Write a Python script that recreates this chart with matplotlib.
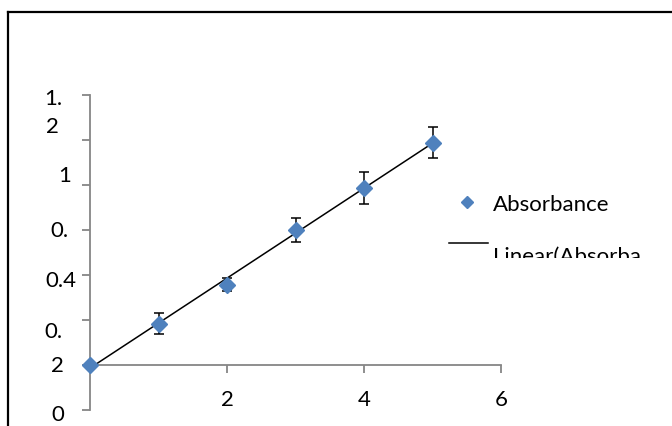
import numpy as np
import matplotlib.pyplot as plt
from matplotlib.lines import Line2D
from matplotlib.patches import Rectangle

plt.rcParams['font.family'] = ['Lato', 'DejaVu Sans']

# data
conc = [0, 1, 2, 3, 4, 5]
absorbance = [0.0, 0.183, 0.357, 0.601, 0.787, 0.988]
err = [0.0, 0.047, 0.030, 0.054, 0.073, 0.069]

x_ticks = [2, 4, 6]
x_labels = ['2', '4', '6']
y_ticks = [-0.2, 0, 0.2, 0.4, 0.6, 0.8, 1.0, 1.2]

# the wrapped, shifted y labels as Excel drew them
y_label_text = ['1.', '2', '1', '0.', '0.4', '0.', '2', '0']
y_label_y = [1.187, 1.062, 0.844, 0.6, 0.378, 0.151, 0.0, -0.217]
y_label_x = [-0.53, -0.55, -0.37, -0.44, -0.42, -0.53, -0.48, -0.47]

legend_labels = ['Absorbance', 'Linear(Absorba']

W, H = 672, 427
blue = '#4F81BD'
grey = '#868686'
fs = 16

def fx(p):
    return p / W

def fy(p):
    return 1 - p / H

fig = plt.figure(figsize=(W / 100, H / 100), dpi=100)
ax = fig.add_axes([fx(90), fy(411), (501 - 90) / W, (411 - 96) / H])
ax.set_xlim(0, 6)
ax.set_ylim(-0.2, 1.2)

for s in ['top', 'right']:
    ax.spines[s].set_visible(False)
ax.spines['bottom'].set_position(('data', 0))
ax.spines['bottom'].set_color(grey)
ax.spines['left'].set_color(grey)
ax.spines['bottom'].set_linewidth(1.3)
ax.spines['left'].set_linewidth(1.3)

ax.set_xticks(x_ticks)
ax.set_xticklabels(x_labels, fontsize=fs)
ax.set_yticks(y_ticks)
ax.set_yticklabels([''] * len(y_ticks))
ax.tick_params(axis='both', direction='out', length=6, width=1.3, color=grey)
ax.tick_params(axis='x', pad=11)

for t, yv, xv in zip(y_label_text, y_label_y, y_label_x):
    ax.text(xv, yv, t, fontsize=fs, ha='center', va='center', clip_on=False)

# linear trendline
slope, intercept = np.polyfit(conc, absorbance, 1)
xs = np.array([conc[0], conc[-1]])
ax.plot(xs, slope * xs + intercept, color='black', lw=1.1, zorder=3)

ax.errorbar(conc, absorbance, yerr=err, fmt='none', ecolor='black',
            elinewidth=1.1, capsize=3.5, capthick=1.1, zorder=4)
ax.plot(conc, absorbance, 'D', color=blue, ms=8, zorder=5, clip_on=False)

# legend, drawn by hand because the second entry is cut off at the bottom
fig.add_artist(Line2D([fx(467)], [fy(203)], marker='D', color=blue, ms=6.5, ls='none'))
fig.text(fx(493), fy(205), legend_labels[0], fontsize=fs, va='center', ha='left')
fig.add_artist(Line2D([fx(449), fx(488)], [fy(244), fy(244)], color='black', lw=1.1))
clip = Rectangle((fx(440), fy(259)), fx(W - 440), 30 / H,
                 transform=fig.transFigure, visible=False)
fig.add_artist(clip)
lt = fig.text(fx(493), fy(263), legend_labels[1], fontsize=fs,
              va='baseline', ha='left')
lt.set_clip_path(clip)

# chart border (only top and left visible in the crop)
fig.add_artist(Line2D([fx(8), fx(8)], [fy(13), 0], color='black', lw=1.6))
fig.add_artist(Line2D([fx(8), 1], [fy(13), fy(13)], color='black', lw=1.6))

fig.savefig('out.png', dpi=100)
